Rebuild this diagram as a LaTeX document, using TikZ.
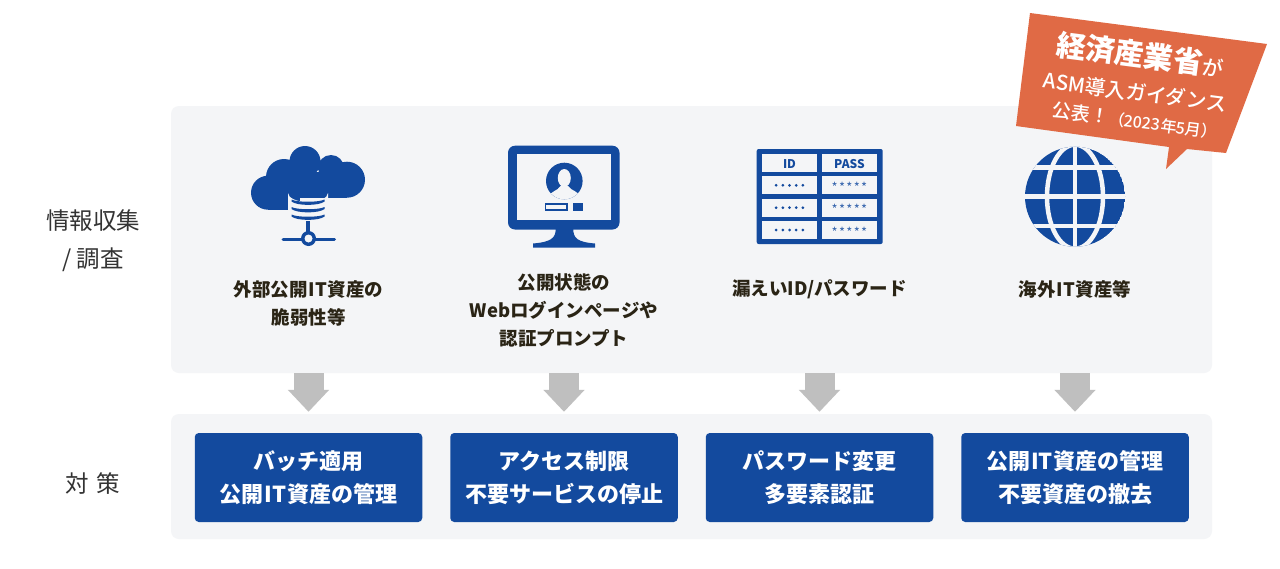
\documentclass[tikz,border=0pt]{standalone}
\usepackage{fontspec}
\setmainfont{Noto Sans CJK JP}
\newfontfamily\jpm{Noto Sans CJK JP Medium}
\usetikzlibrary{arrows.meta,calc}
\definecolor{navy}{HTML}{134A9E}
\definecolor{panelbg}{HTML}{F4F5F7}
\definecolor{orangeb}{HTML}{E06A45}
\definecolor{graya}{HTML}{BFBFBF}
\definecolor{labelc}{HTML}{2A2415}
\definecolor{sidec}{HTML}{333333}
\newcommand{\fs}[1]{\fontsize{#1pt}{#1pt}\selectfont}
\newcommand{\itx}{\hspace{1pt}IT\hspace{1pt}}
\tikzset{
  panel/.style={fill=panelbg,rounded corners=8pt,inner sep=0pt,minimum width=1041pt},
  actionbox/.style={fill=navy,rounded corners=4pt,inner sep=0pt,minimum width=227.5pt,minimum height=89pt,text=white,align=center,font=\fs{22}\bfseries,text width=227pt},
  itemlabel/.style={text=labelc,align=center,font=\fs{18.5}\bfseries},
  sidelabel/.style={text=sidec,font=\fs{23.5},inner sep=0pt},
  downarrow/.style={draw=graya,line width=30pt,-{Triangle[width=40pt,length=22pt,fill=graya]},shorten >=2pt,xshift=0.5pt},
  bannertext/.style={text=white,rotate=-7.45,inner sep=0pt},
  cellbox/.style={fill=panelbg,inner sep=0pt,minimum width=55.6pt,minimum height=18pt},
  headtext/.style={text=navy,font=\fs{12}\bfseries,inner sep=0pt},
  startext/.style={text=navy!85,font=\fs{13},inner sep=0pt},
}
\begin{document}
\begin{tikzpicture}[x=1pt,y=-1pt]
\useasboundingbox[fill=white] (0,0) rectangle (1280,568);

% panels
\node[panel,minimum height=267pt] (top) at (691.5,239.5) {};
\node[panel,minimum height=125pt] (bottom) at (691.5,476.5) {};

% side labels
\node[sidelabel] (s1) at (93,221) {情報収集};
\node[sidelabel] (s2) at (93,259.5) {/ 調査};
\node[sidelabel] (s3) at (93,484) {対\hspace{8pt}策};

% action boxes
\node[actionbox] (b1) at (308.5,477.5) {バッチ適用\\[11pt]公開\itx 資産の管理};
\node[actionbox] (b2) at (564,477.5) {アクセス制限\\[11pt]不要サービスの停止};
\node[actionbox] (b3) at (819.5,477.5) {パスワード変更\\[11pt]多要素認証};
\node[actionbox] (b4) at (1075,477.5) {公開\itx 資産の管理\\[11pt]不要資産の撤去};

% arrows
\foreach \b in {b1,b2,b3,b4}
  \draw[downarrow] (\b |- top.south) -- (\b |- bottom.north);

% item labels
\node[itemlabel] (l1) at (308.5,303) {外部公開\itx 資産の\\[9.5pt]脆弱性等};
\node[itemlabel] (l2) at (564,310) {公開状態の\\[9.5pt]Webログインページや\\[9.5pt]認証プロンプト};
\node[itemlabel] (l3) at (819.5,289) {漏えいID/パスワード};
\node[itemlabel] (l4) at (1075,289) {海外\itx 資産等};

% cloud icon
\fill[navy] (268,192.7) circle[radius=17] (284,177) circle[radius=18] (305,161.5) circle[radius=15.5]
  (331,168) circle[radius=13] (347,179.7) circle[radius=18];
\fill[navy] (268,172) rectangle (347,197.7);
\fill[navy] (268,195) rectangle (300,209.7);
% database
\fill[panelbg] (288,193) arc[start angle=180,end angle=0,x radius=20,y radius=9] -- (328,214)
  arc[start angle=0,end angle=180,x radius=20,y radius=9] -- cycle;
\fill[navy] (308,192.5) ellipse[x radius=16.5,y radius=5];
\foreach \y in {199.5,207,214.5}{
  \fill[navy] (291.5,\y) .. controls (297,\y+3) and (319,\y+3) .. (324.5,\y) -- (324.5,\y+2) .. controls (319,\y+6.5) and (297,\y+6.5) .. (291.5,\y+2) -- cycle;
}
\fill[navy] (306,221) rectangle (310,236);
\draw[navy,line width=3pt,line cap=round] (283,239.5) -- (334.5,239.5);
\fill[navy] (308.5,238.5) circle[radius=7.5];
\fill[panelbg] (308.5,238.5) circle[radius=4];

% monitor icon
\fill[navy,rounded corners=7pt] (508,145.7) rectangle (619.5,229.5);
\fill[panelbg] (516.7,154) rectangle (610.7,220);
\fill[navy] (555.7,229) -- (573.3,229) .. controls (573.3,238) and (577,242) .. (595,243.5) -- (595,247.5) -- (533,247.5) -- (533,243.5)
  .. controls (551,242) and (555.7,238) .. (555.7,229) -- cycle;
\fill[navy] (564.3,181) circle[radius=18.3];
\begin{scope}
\clip (564.3,181) circle[radius=18.3];
\fill[panelbg] (564.3,178) ellipse[x radius=6.5,y radius=9];
\fill[panelbg] (549,197) .. controls (550,191) and (558,191) .. (560.5,186) -- (568,186) .. controls (571,191) and (579,191) .. (580,197) -- (580,205) -- (549,205) -- cycle;
\end{scope}
\draw[navy,line width=1.5pt] (545.7,204) rectangle (567,210);
\fill[navy] (572.7,203.3) rectangle (583.3,210.7);

% table icon
\fill[navy,rounded corners=2pt] (756.7,149) rectangle (882.7,244);
\foreach \n/\cy in {a/163.3,b/185.3,c/207.7,d/230}{
  \node[cellbox] (id\n) at (789.5,\cy) {};
  \node[cellbox] (pw\n) at (849.5,\cy) {};
}
\node[headtext] (idh) at ($(ida.center)+(0,1)$) {ID};
\node[headtext] (pwh) at ($(pwa.center)+(0,1)$) {PASS};
\foreach \n in {b,c,d}{
  \foreach \dx in {-13.4,-6.7,0,6.7,13.4}{
    \fill[navy] ($(id\n.center)+(\dx,0)$) circle[radius=1.5];
  }
  \node[startext] (st\n) at ($(pw\n.center)+(0,2)$) {\addfontfeature{LetterSpace=10}*****};
}

% globe icon
\begin{scope}
\clip (1075,196.7) circle[radius=50];
\fill[navy] (1075,196.7) circle[radius=50];
\draw[panelbg,line width=4.5pt] (1075,140) -- (1075,250);
\draw[panelbg,line width=4.5pt] (1075,196.7) ellipse[x radius=28,y radius=52];
\draw[panelbg,line width=4.5pt] (1020,167.5) -- (1130,167.5);
\draw[panelbg,line width=4.5pt] (1020,196.7) -- (1130,196.7);
\draw[panelbg,line width=4.5pt] (1020,226) -- (1130,226);
\end{scope}

% banner
\fill[orangeb] (1030,13) -- (1267,44) -- (1226,153) -- (1187,149) -- (1166,169) -- (1169,147) -- (1016,126) -- cycle;
\node[bannertext] (bt1) at (1140,55) {\fs{29.5}\bfseries 経済産業省\jpm\mdseries\fs{21}が};
\node[bannertext] (bt2) at (1135,92) {\jpm\fs{20.5}ASM導入ガイダンス};
\node[bannertext] (bt3) at (1135,120.5) {\jpm\fs{19}公表！\fs{16}（2023年5月）};
\end{tikzpicture}
\end{document}
